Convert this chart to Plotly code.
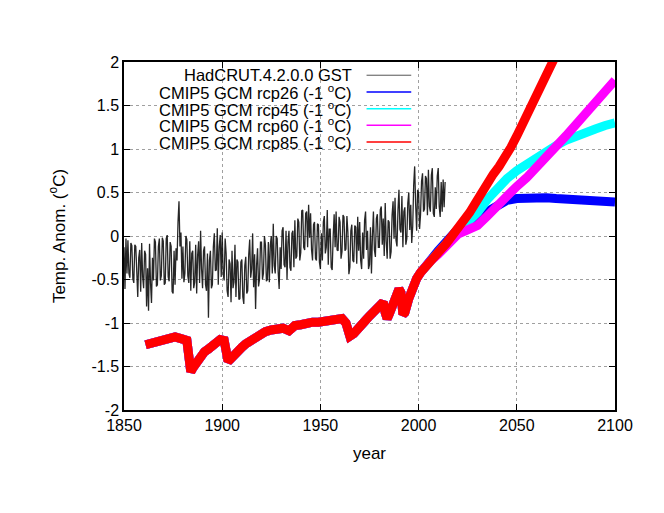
import plotly.graph_objects as go

# ---------------------------------------------------------------------------
# Data
# ---------------------------------------------------------------------------

# HadCRUT.4.2.0.0 global surface temperature, two values per year from 1850
hadcrut_start = 1850
hadcrut_step = 0.5
hadcrut = [
    # 1850s
    -0.13, -0.61, -0.03, -0.43, -0.05, -0.43, -0.48, -0.08, -0.11, -0.49,
    -0.54, -0.10, -0.12, -0.56, -0.70, -0.25, -0.16, -0.64, -0.08, -0.47,
    # 1860s
    -0.60, -0.17, -0.21, -0.81, -0.37, -0.86, -0.09, -0.54, -0.77, -0.25,
    -0.51, -0.03, -0.07, -0.58, -0.56, -0.12, -0.03, -0.51, -0.46, -0.02,
    # 1870s
    -0.06, -0.56, -0.54, -0.03, 0.01, -0.47, -0.52, -0.07, -0.12, -0.64,
    -0.66, -0.17, -0.56, -0.14, -0.28, 0.16, 0.40, -0.12, 0.04, -0.49,
    # 1880s
    -0.12, -0.53, -0.43, 0.00, -0.04, -0.46, -0.54, -0.06, -0.63, -0.20,
    -0.17, -0.60, -0.53, -0.10, -0.66, -0.22, -0.06, -0.54, 0.06, -0.38,
    # 1890s
    -0.60, -0.17, -0.12, -0.56, -0.63, -0.20, -0.94, -0.28, -0.17, -0.60,
    -0.56, -0.12, 0.03, -0.40, -0.39, 0.09, -0.56, -0.12, 0.01, -0.47,
    # 1900s
    0.04, -0.44, -0.51, -0.03, -0.20, -0.63, -0.70, -0.27, -0.32, -0.76,
    -0.17, -0.60, -0.53, -0.10, -0.70, -0.27, -0.30, -0.73, -0.72, -0.30,
    # 1910s
    -0.27, -0.70, -0.78, -0.34, -0.24, -0.66, -0.63, -0.22, -0.04, -0.48,
    -0.38, 0.03, -0.59, -0.21, -0.84, -0.34, -0.14, -0.58, -0.50, -0.07,
    # 1920s
    -0.07, -0.50, -0.43, 0.00, -0.10, -0.52, -0.50, -0.07, -0.53, -0.10,
    0.00, -0.43, 0.14, -0.34, -0.43, 0.00, -0.03, -0.41, -0.61, -0.13,
    # 1930s
    -0.38, 0.06, 0.10, -0.33, -0.36, 0.06, -0.50, -0.07, 0.06, -0.36,
    -0.40, 0.03, 0.06, -0.36, 0.18, -0.26, -0.23, 0.20, 0.16, -0.28,
    # 1940s
    -0.19, 0.29, 0.30, -0.13, -0.16, 0.26, 0.28, -0.13, 0.36, -0.02,
    0.26, -0.16, -0.28, 0.13, 0.16, -0.26, -0.28, 0.14, 0.13, -0.30,
    # 1950s
    -0.38, 0.03, -0.28, 0.16, 0.23, -0.20, -0.13, 0.30, -0.33, 0.08,
    0.08, -0.36, -0.39, -0.01, 0.25, -0.13, 0.28, -0.16, -0.17, 0.22,
    # 1960s
    0.16, -0.26, -0.18, 0.24, 0.22, -0.17, -0.15, 0.23, 0.04, -0.44,
    -0.36, 0.06, 0.13, -0.28, -0.30, 0.12, 0.10, -0.32, 0.22, -0.17,
    # 1970s
    0.16, -0.28, -0.38, 0.04, -0.26, 0.18, 0.28, -0.16, 0.06, -0.38,
    -0.33, 0.10, -0.43, 0.00, 0.28, -0.16, -0.24, 0.20, 0.25, -0.13,
    # 1980s
    -0.13, 0.30, 0.34, -0.10, 0.20, -0.23, 0.38, -0.06, -0.26, 0.18,
    0.16, -0.26, -0.18, 0.24, 0.40, -0.03, 0.44, -0.05, -0.12, 0.30,
    # 1990s
    0.53, 0.08, 0.04, 0.46, -0.13, 0.28, 0.33, -0.10, -0.03, 0.38,
    0.50, 0.07, 0.36, -0.08, 0.11, 0.59, 0.80, 0.36, 0.06, 0.53,
    # 2000s
    0.50, 0.08, 0.25, 0.63, 0.72, 0.28, 0.31, 0.69, 0.66, 0.24,
    0.76, 0.34, 0.28, 0.70, 0.78, 0.26, 0.22, 0.56, 0.31, 0.69,
    # 2010-2013
    0.78, 0.34, 0.22, 0.62, 0.28, 0.65, 0.33, 0.62,
]
hadcrut_years = [hadcrut_start + i * hadcrut_step for i in range(len(hadcrut))]

# CMIP5 historical run (shared by all scenarios), already shifted by -1 oC
hist_years = [
    1861, 1864, 1867, 1870, 1873, 1876, 1879, 1882, 1883, 1884, 1885, 1887,
    1889, 1891, 1893, 1895, 1897, 1899, 1901, 1902, 1903, 1904, 1906, 1908,
    1910, 1912, 1914, 1916, 1918, 1920, 1922, 1925, 1928, 1931, 1934, 1937,
    1940, 1943, 1946, 1949, 1952, 1955, 1958, 1961, 1963, 1964, 1965, 1967,
    1969, 1971, 1973, 1975, 1977, 1979, 1981, 1982, 1983, 1984, 1985, 1987,
    1989, 1990, 1991, 1992, 1993, 1995, 1997, 1999, 2001, 2003, 2005,
]
hist_vals = [
    -1.25, -1.23, -1.21, -1.19, -1.17, -1.16, -1.18, -1.20, -1.38, -1.56, -1.52, -1.44,
    -1.38, -1.33, -1.30, -1.27, -1.24, -1.19, -1.20, -1.28, -1.44, -1.42, -1.36, -1.32,
    -1.28, -1.24, -1.21, -1.16, -1.14, -1.12, -1.10, -1.08, -1.06, -1.06, -1.09, -1.03,
    -1.02, -1.00, -0.99, -0.99, -0.98, -0.97, -0.96, -0.95, -1.00, -1.15, -1.15, -1.12,
    -1.08, -1.03, -0.97, -0.92, -0.87, -0.82, -0.77, -0.76, -0.88, -0.95, -0.90, -0.78,
    -0.66, -0.61, -0.65, -0.90, -0.88, -0.72, -0.58, -0.49, -0.42, -0.36, -0.30,
]

# CMIP5 scenario projections (-1 oC)
future_years = [
    2006, 2010, 2014, 2017, 2020, 2025, 2030, 2035, 2040, 2045, 2050,
    2055, 2060, 2065, 2070, 2075, 2080, 2085, 2090, 2095, 2100,
]
rcp26 = [
    -0.26, -0.17, -0.07, 0.02, 0.08, 0.15, 0.22, 0.29, 0.36, 0.41, 0.43,
    0.44, 0.45, 0.44, 0.43, 0.42, 0.41, 0.41, 0.40, 0.40, 0.39,
]
rcp45 = [
    -0.28, -0.19, -0.09, 0.00, 0.07, 0.16, 0.27, 0.42, 0.55, 0.66, 0.75,
    0.83, 0.90, 0.97, 1.04, 1.10, 1.15, 1.19, 1.23, 1.27, 1.30,
]
rcp60 = [
    -0.29, -0.21, -0.11, -0.03, 0.02, 0.07, 0.12, 0.23, 0.35, 0.46, 0.57,
    0.67, 0.78, 0.90, 1.03, 1.15, 1.28, 1.41, 1.55, 1.68, 1.79,
]
rcp85_years = [
    2006, 2010, 2014, 2017, 2020, 2023, 2026, 2029, 2032, 2035, 2038, 2041,
    2044, 2047, 2050, 2053, 2056, 2059, 2062, 2065, 2068, 2072, 2080,
]
rcp85 = [
    -0.28, -0.19, -0.09, 0.00, 0.07, 0.15, 0.27, 0.38, 0.50, 0.61, 0.71, 0.80,
    0.90, 1.02, 1.15, 1.29, 1.43, 1.57, 1.72, 1.86, 2.00, 2.19, 2.55,
]

x_ticks = [1850, 1900, 1950, 2000, 2050, 2100]
y_ticks = [-2, -1.5, -1, -0.5, 0, 0.5, 1, 1.5, 2]
y_ticktext = ["-2", "-1.5", "-1", "-0.5", "0", "0.5", "1", "1.5", "2"]

series_names = [
    "HadCRUT.4.2.0.0 GST",
    "CMIP5 GCM rcp26 (-1 <sup>o</sup>C)",
    "CMIP5 GCM rcp45 (-1 <sup>o</sup>C)",
    "CMIP5 GCM rcp60 (-1 <sup>o</sup>C)",
    "CMIP5 GCM rcp85 (-1 <sup>o</sup>C)",
]
series_colors = ["#000000", "#0000ff", "#00ffff", "#ff00ff", "#ff0000"]

# ---------------------------------------------------------------------------
# Figure
# ---------------------------------------------------------------------------

FONT = "Liberation Sans, Arial, sans-serif"

fig = go.Figure()

fig.add_trace(go.Scatter(
    x=hadcrut_years, y=hadcrut, mode="lines",
    line=dict(color="rgba(0,0,0,0.85)", width=1.3),
))

scenarios = [
    (future_years, rcp26),
    (future_years, rcp45),
    (future_years, rcp60),
    (rcp85_years, rcp85),
]
for (fy, fv), color in zip(scenarios, series_colors[1:]):
    fig.add_trace(go.Scatter(
        x=hist_years + fy, y=hist_vals + fv, mode="lines",
        line=dict(color=color, width=9),
    ))

# gnuplot-style key: right-aligned text with a line sample to its right
key_top = 0.962
key_dy = 0.048
for i, (name, color) in enumerate(zip(series_names, series_colors)):
    yk = key_top - i * key_dy
    fig.add_annotation(
        x=0.468, y=yk, xref="paper", yref="paper",
        text=name, showarrow=False, xanchor="right", yanchor="middle",
        font=dict(family=FONT, size=16.5, color="black"),
    )
    fig.add_shape(
        type="line", xref="paper", yref="paper",
        x0=0.494, x1=0.585, y0=yk, y1=yk,
        line=dict(color=color if i else "#555555", width=1 if i == 0 else 1.5),
    )

axis_common = dict(
    showline=True, linecolor="black", linewidth=1.5, mirror="ticks",
    ticks="inside", ticklen=6, tickcolor="black",
    showgrid=True, gridcolor="#a0a0a0", griddash="dot", gridwidth=1,
    zeroline=False,
    tickfont=dict(family=FONT, size=16, color="black"),
)

fig.update_xaxes(
    range=[1850, 2100], tickvals=x_ticks,
    title=dict(text="year", font=dict(family=FONT, size=17, color="black"), standoff=14),
    **axis_common,
)
fig.update_yaxes(
    range=[-2, 2], tickvals=y_ticks, ticktext=y_ticktext,
    title=dict(text="Temp. Anom. (<sup>o</sup>C)",
               font=dict(family=FONT, size=17, color="black"), standoff=22),
    **axis_common,
)

# the page puts the figure 8 px in from the top-left corner
fig.update_layout(
    width=664, height=513,
    margin=dict(l=116, r=57, t=54, b=111),
    paper_bgcolor="white", plot_bgcolor="white",
    showlegend=False,
    font=dict(family=FONT, color="black"),
)

fig.write_html("out.html")
